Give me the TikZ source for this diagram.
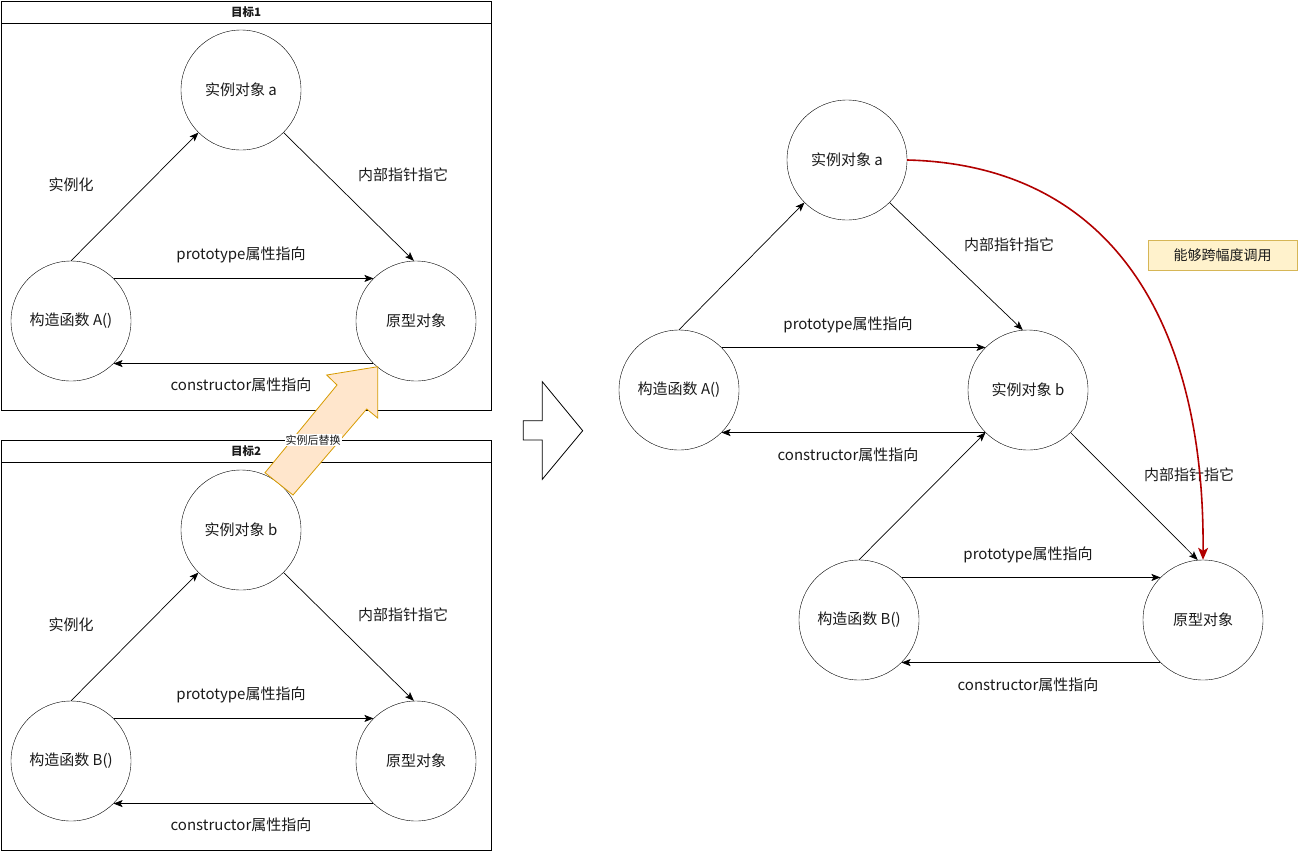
\documentclass[tikz,border=0pt]{standalone}
\usepackage{fontspec}
\setmainfont{Noto Sans CJK SC}
\usetikzlibrary{arrows.meta}
\definecolor{fatfill}{HTML}{FFE6CC}
\definecolor{fatline}{HTML}{D79B00}
\definecolor{notefill}{HTML}{FFF2CC}
\definecolor{noteline}{HTML}{D6B656}
\definecolor{darkred}{HTML}{B20000}
\definecolor{txt}{HTML}{1A1A1A}
\begin{document}
\begin{tikzpicture}[x=1pt,y=-1pt,
  every node/.style={inner sep=0pt,text=txt},
  obj/.style={draw,circle,minimum size=120pt,font=\fontsize{15}{17}\selectfont},
  lbl/.style={font=\fontsize{15}{17}\selectfont},
  conn/.style={draw,line width=0.7pt,-{Stealth[length=9pt,width=7pt,inset=2pt]}},
  title/.style={font=\bfseries\fontsize{11.5}{13}\selectfont}]
\useasboundingbox (0,0) rectangle (1298,852);
\fill[white] (0,0) rectangle (1298,852);

% containers
\draw[line width=0.8pt] (1,1) rectangle (491,410);
\draw[line width=0.8pt] (1,23) -- (491,23);
\node[title] (t1) at (246,12) {目标1};
\draw[line width=0.8pt] (1,440) rectangle (491,850);
\draw[line width=0.8pt] (1,462) -- (491,462);
\node[title] (t2) at (246,451) {目标2};

% panel 1
\node[obj] (a1) at (241,90) {实例对象 a};
\node[obj] (A1) at (71,321) {构造函数 A()};
\node[obj] (p1) at (416,321) {原型对象};
\draw[conn] (A1.north) -- (a1.225);
\draw[conn] (a1.-45) -- (p1.92);
\draw[conn] (A1.45) -- (p1.135);
\draw[conn] (p1.225) -- (A1.-45);
\node[lbl] (l11) at (71,185) {实例化};
\node[lbl] (l12) at (403,175) {内部指针指它};
\node[lbl] (l13) at (241,255) {prototype属性指向};
\node[lbl] (l14) at (241,385) {constructor属性指向};

% panel 2
\node[obj] (b2) at (241,530) {实例对象 b};
\node[obj] (B2) at (71,761) {构造函数 B()};
\node[obj] (p2) at (416,761) {原型对象};
\draw[conn] (B2.north) -- (b2.225);
\draw[conn] (b2.-45) -- (p2.92);
\draw[conn] (B2.45) -- (p2.135);
\draw[conn] (p2.225) -- (B2.-45);
\node[lbl] (l21) at (71,625) {实例化};
\node[lbl] (l22) at (403,615) {内部指针指它};
\node[lbl] (l23) at (241,695) {prototype属性指向};
\node[lbl] (l24) at (241,825) {constructor属性指向};

% fat arrow
\draw[fill=fatfill,draw=fatline,line width=0.8pt,line join=miter]
  (265,472.7) -- (337,385) -- (326.7,375) -- (377.7,366.7) -- (377.7,418) -- (366.7,409) -- (293,495) -- cycle;
\node[fill=white,inner sep=1pt,font=\fontsize{11}{13}\selectfont] (fatl) at (313,440) {实例后替换};

% big right arrow
\draw[line width=0.8pt,line join=miter,fill=white]
  (542.3,381.7) -- (582.7,430.7) -- (542.3,479.3) -- (542.3,440) -- (523.3,440) -- (523.3,420.7) -- (542.3,420.7) -- cycle;

% right side
\node[obj] (a3) at (847,160) {实例对象 a};
\node[obj] (A3) at (679,390) {构造函数 A()};
\node[obj] (b3) at (1028,390) {实例对象 b};
\node[obj] (B3) at (859,620) {构造函数 B()};
\node[obj] (p3) at (1203,620) {原型对象};
\draw[conn] (A3.north) -- (a3.225);
\draw[conn] (a3.-45) -- (b3.95);
\draw[conn] (A3.45) -- (b3.135);
\draw[conn] (b3.225) -- (A3.-45);
\draw[conn] (b3.-45) -- (p3.95);
\draw[conn] (B3.north) -- (b3.225);
\draw[conn] (B3.45) -- (p3.135);
\draw[conn] (p3.225) -- (B3.-45);
\node[lbl] (l31) at (1009,245) {内部指针指它};
\node[lbl] (l32) at (848,325) {prototype属性指向};
\node[lbl] (l33) at (848,455) {constructor属性指向};
\node[lbl] (l34) at (1189,475) {内部指针指它};
\node[lbl] (l35) at (1028,555) {prototype属性指向};
\node[lbl] (l36) at (1028,685) {constructor属性指向};

% red curve
\draw[draw=darkred,line width=1.6pt,-{Stealth[length=12pt,width=10pt,inset=3pt]}]
  (a3.east) .. controls (1110,165) and (1205,320) .. (p3.north);

% note
\node[draw=noteline,fill=notefill,line width=0.8pt,minimum width=149pt,minimum height=30pt,font=\fontsize{14}{16}\selectfont] (note) at (1222.5,255) {能够跨幅度调用};
\end{tikzpicture}
\end{document}
